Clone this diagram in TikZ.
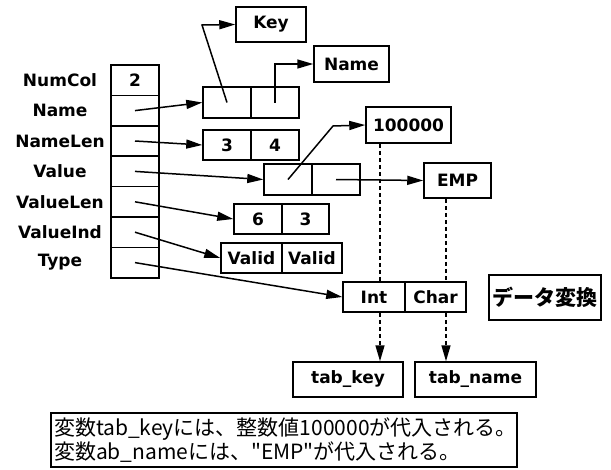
\documentclass[tikz,border=0pt]{standalone}
\usepackage{fontspec}
\usepackage{graphicx}
\setmainfont{DejaVu Sans}
\newfontfamily\jpfont{Noto Sans CJK JP}
\usetikzlibrary{arrows.meta}
\newcommand\lbl{\fontsize{17}{17}\selectfont\bfseries}
\tikzset{
  bx/.style={draw, line width=1.5pt, inner sep=0pt, font=\lbl},
  ptr/.style={line width=1.5pt, -{Triangle[length=16pt,width=9pt]}},
  seg/.style={line width=1.5pt},
  dsh/.style={line width=1.5pt, dash pattern=on 4pt off 3pt},
  dptr/.style={dsh, -{Triangle[length=16pt,width=9pt]}},
  lab/.style={font=\lbl, inner sep=0pt},
  cellc/.style={bx, minimum width=48pt, minimum height=30.4pt},
}
\begin{document}
\begin{tikzpicture}[x=1pt,y=-1pt]
\useasboundingbox (0,0) rectangle (611,469);
% left column
\node[cellc] (c1) at (135,80.2) {2};
\node[cellc] (c2) at (135,110.6) {};
\node[cellc] (c3) at (135,141.0) {};
\node[cellc] (c4) at (135,171.4) {};
\node[cellc] (c5) at (135,201.8) {};
\node[cellc] (c6) at (135,232.2) {};
\node[cellc] (c7) at (135,262.6) {};
\node[lab] (l1) at (60,80.2) {NumCol};
\node[lab] (l2) at (60,110.6) {Name};
\node[lab] (l3) at (60,141.0) {NameLen};
\node[lab] (l4) at (60,171.4) {Value};
\node[lab] (l5) at (60,201.8) {ValueLen};
\node[lab] (l6) at (60,232.2) {ValueInd};
\node[lab] (l7) at (60,262.6) {Type};
% boxes
\node[bx, minimum width=70pt, minimum height=35pt] (key) at (271,24.5) {Key};
\node[bx, minimum width=75pt, minimum height=36pt] (nameT) at (351.5,64) {Name};
\node[bx, minimum width=48pt, minimum height=31pt] (np1) at (227,102.5) {};
\node[bx, minimum width=48pt, minimum height=31pt] (np2) at (275,102.5) {};
\node[bx, minimum width=48pt, minimum height=30pt] (nl1) at (227,145) {3};
\node[bx, minimum width=48pt, minimum height=30pt] (nl2) at (275,145) {4};
\node[bx, minimum width=85pt, minimum height=36pt] (hund) at (408.5,125) {100000};
\node[bx, minimum width=48pt, minimum height=31pt] (vp1) at (288,179.5) {};
\node[bx, minimum width=48pt, minimum height=31pt] (vp2) at (336,179.5) {};
\node[bx, minimum width=67pt, minimum height=35pt] (emp) at (457.5,180.5) {EMP};
\node[bx, minimum width=48pt, minimum height=30pt] (vl1) at (258,219) {6};
\node[bx, minimum width=47pt, minimum height=30pt] (vl2) at (305.5,219) {3};
\node[bx, minimum width=61pt, minimum height=30pt] (vi1) at (251.5,258) {Valid};
\node[bx, minimum width=60pt, minimum height=30pt] (vi2) at (312,258) {Valid};
\node[bx, minimum width=62pt, minimum height=30pt] (t1) at (374,297) {Int};
\node[bx, minimum width=61pt, minimum height=30pt] (t2) at (435.5,297) {Char};
\node[bx, minimum width=112pt, minimum height=45pt, font=\jpfont\bfseries\fontsize{21}{21}\selectfont] (conv) at (545,297.5) {データ変換};
\node[bx, minimum width=110pt, minimum height=35pt] (tk) at (348,379.5) {tab\_key};
\node[bx, minimum width=121pt, minimum height=35pt] (tn) at (475.5,379.5) {tab\_name};
\node[bx, minimum width=466pt, minimum height=54pt, inner xsep=3pt, align=left, text width=460pt,
  font=\jpfont\fontsize{21}{20}\selectfont] (note) at (284,440) {変数tab\_keyには、整数値100000が代入される。\\変数ab\_nameには、"EMP"が代入される。};
% connectors
\draw[ptr] (c2.center) -- (np1.west);
\draw[ptr] (c3.center) -- (nl1.west);
\draw[ptr] (c4.center) -- (vp1.west);
\draw[ptr] (c5.center) -- (vl1.west);
\draw[ptr] (c6.center) -- (vi1.west);
\draw[ptr] (c7.center) -- (t1.west);
\coordinate (kc) at (202,25);
\draw[ptr] (np1.center) -- (kc) -- (key.west);
\draw[ptr] (np2.center) -- (np2.center |- nameT.west) -- (nameT.west);
\coordinate (hc) at (333,126);
\draw[ptr] (vp1.center) -- (hc) -- (hund.west);
\draw[ptr] (vp2.center) -- (emp.west);
\coordinate (d1) at (380,0);
\coordinate (d2) at (446,0);
\draw[dsh] (d1 |- hund.south) -- (d1 |- t1.north);
\draw[dsh] (d2 |- emp.south) -- (d2 |- t2.north);
\draw[dptr] (d1 |- t1.south) -- (d1 |- tk.north);
\draw[dptr] (d2 |- t2.south) -- (d2 |- tn.north);
\end{tikzpicture}
\end{document}
